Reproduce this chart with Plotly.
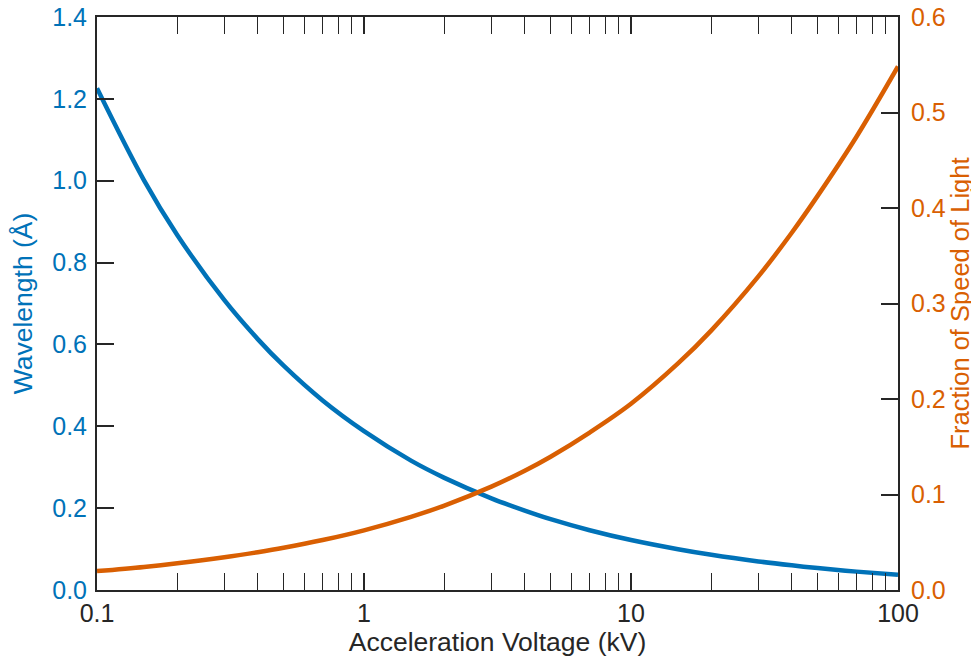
import plotly.graph_objects as go

voltage_kv = [0.1, 0.15, 0.2, 0.3, 0.4, 0.5, 0.7, 1, 1.5, 2, 3, 4, 5, 7, 10,
              15, 20, 30, 40, 50, 70, 100]
wavelength_A = [1.226, 1.001, 0.867, 0.708, 0.613, 0.548, 0.463, 0.388, 0.316,
                0.274, 0.224, 0.194, 0.173, 0.146, 0.122, 0.0996, 0.0859,
                0.0698, 0.0602, 0.0536, 0.0449, 0.0370]
speed_fraction = [0.0198, 0.0242, 0.0280, 0.0343, 0.0396, 0.0442, 0.0523,
                  0.0625, 0.0766, 0.0884, 0.1082, 0.1249, 0.1396, 0.1649,
                  0.1950, 0.2372, 0.2719, 0.3284, 0.3741, 0.4127, 0.4749,
                  0.5482]
x_tickvals = [0.1, 1, 10, 100]
x_ticktext = ["0.1", "1", "10", "100"]
x_minor_tickvals = [0.2, 0.3, 0.4, 0.5, 0.6, 0.7, 0.8, 0.9,
                    2, 3, 4, 5, 6, 7, 8, 9,
                    20, 30, 40, 50, 60, 70, 80, 90]

BLUE = "#0072B8"
ORANGE = "#D95F02"
DARK = "#262626"
FONT = "Liberation Sans, Arial, sans-serif"

fig = go.Figure()
fig.add_trace(go.Scatter(x=voltage_kv, y=wavelength_A, mode="lines",
                         line=dict(color=BLUE, width=4.5, shape="spline"),
                         showlegend=False))
fig.add_trace(go.Scatter(x=voltage_kv, y=speed_fraction, mode="lines",
                         line=dict(color=ORANGE, width=4.5, shape="spline"),
                         yaxis="y2", showlegend=False))

fig.update_layout(
    width=979, height=661,
    margin=dict(l=89, r=89, t=9, b=79, autoexpand=False),
    plot_bgcolor="white", paper_bgcolor="white",
    font=dict(family=FONT, size=25, color=DARK),
    xaxis=dict(
        type="log", range=[-1, 2], automargin=False,
        tickvals=x_tickvals, ticktext=x_ticktext,
        ticks="inside", ticklen=17, tickwidth=1.5, tickcolor=DARK,
        ticklabeloverflow="allow",
        minor=dict(tickvals=x_minor_tickvals, ticks="inside", ticklen=8,
                   tickwidth=1, tickcolor=DARK, showgrid=False),
        showline=True, linecolor=DARK, linewidth=2, mirror="allticks",
        showgrid=False, zeroline=False,
        tickfont=dict(size=25, color=DARK),
        title=dict(text="Acceleration Voltage (kV)", font=dict(size=26.5, color=DARK), standoff=6),
    ),
    yaxis=dict(
        range=[0, 1.4], dtick=0.2, tickformat=".1f", automargin=False,
        ticks="inside", ticklen=17, tickwidth=1.5, tickcolor=DARK,
        ticklabelstandoff=3, ticklabeloverflow="allow",
        showline=True, linecolor=DARK, linewidth=2,
        showgrid=False, zeroline=False,
        tickfont=dict(size=25, color=BLUE),
        title=dict(text="Wavelength (Å)", font=dict(size=26.5, color=BLUE), standoff=15),
    ),
    yaxis2=dict(
        range=[0, 0.6], dtick=0.1, tickformat=".1f", automargin=False,
        overlaying="y", side="right",
        ticks="inside", ticklen=17, tickwidth=1.5, tickcolor=DARK,
        ticklabelstandoff=6, ticklabeloverflow="allow",
        showline=True, linecolor=DARK, linewidth=2,
        showgrid=False, zeroline=False,
        tickfont=dict(size=25, color=ORANGE),
        title=dict(text="Fraction of Speed of Light", font=dict(size=25.5, color=ORANGE), standoff=3),
    ),
)

fig.write_html("out.html")
